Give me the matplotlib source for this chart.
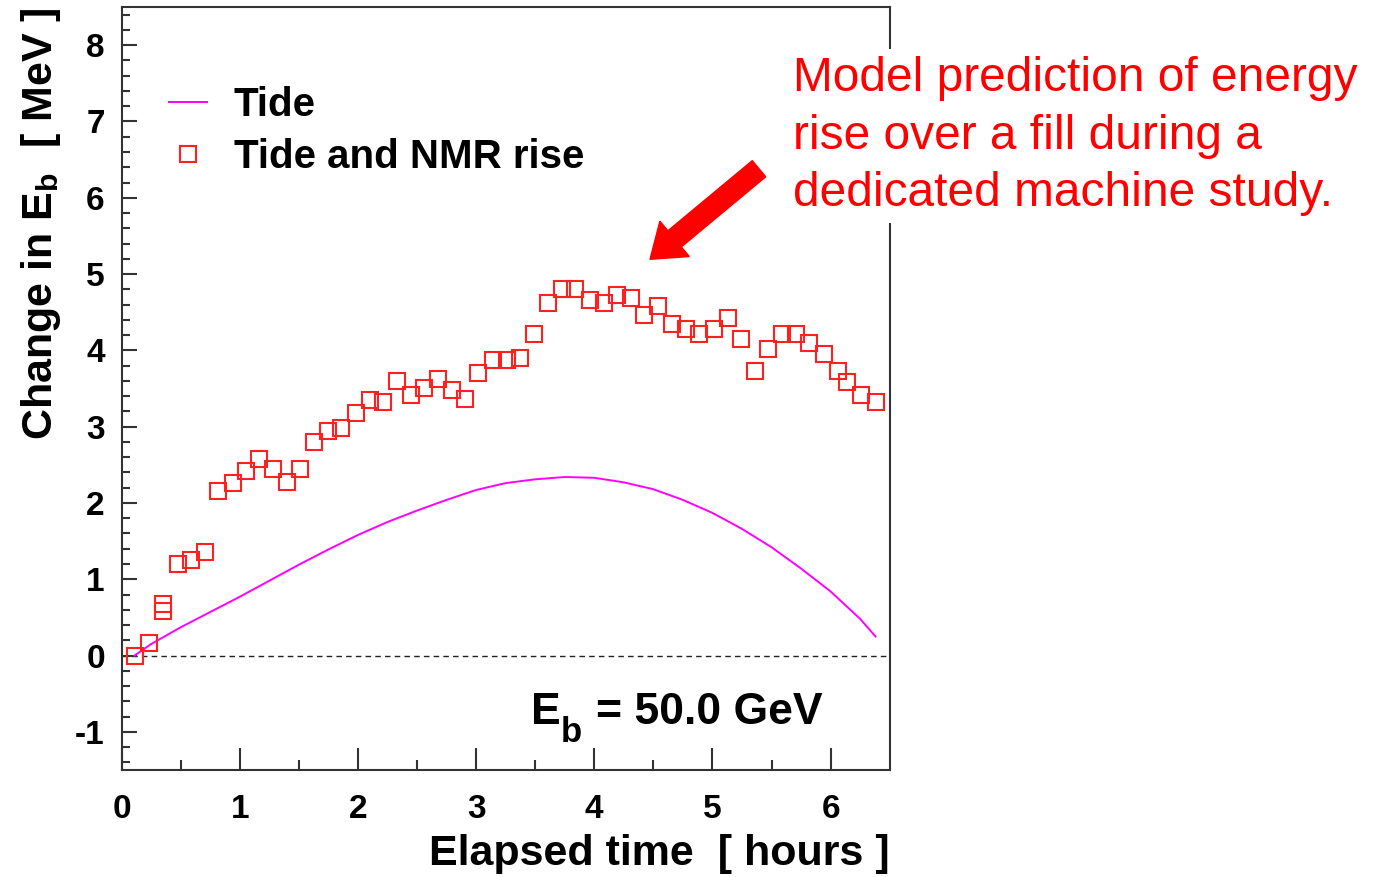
import numpy as np
import matplotlib.pyplot as plt
import matplotlib.patches as mpatches
from matplotlib.transforms import IdentityTransform

plt.rcParams['font.family'] = ['Liberation Sans', 'DejaVu Sans']
plt.rcParams['font.weight'] = 'bold'
plt.rcParams['axes.labelweight'] = 'bold'
plt.rcParams['axes.unicode_minus'] = False
plt.rcParams['mathtext.fontset'] = 'custom'
plt.rcParams['mathtext.rm'] = 'Liberation Sans:bold'
plt.rcParams['mathtext.bf'] = 'Liberation Sans:bold'

# Tide model curve (hours, MeV)
tide_t = [0.11, 0.25, 0.5, 0.75, 1.0, 1.25, 1.5, 1.75, 2.0, 2.25, 2.5, 2.75, 3.0,
          3.25, 3.5, 3.75, 4.0, 4.25, 4.5, 4.75, 5.0, 5.25, 5.5, 5.75, 6.0, 6.25, 6.38]
tide_e = [0.0, 0.15, 0.37, 0.57, 0.77, 0.98, 1.19, 1.39, 1.58, 1.75, 1.90, 2.04, 2.17,
          2.26, 2.31, 2.34, 2.33, 2.27, 2.18, 2.04, 1.87, 1.66, 1.42, 1.14, 0.84, 0.48, 0.25]

# Tide plus NMR rise measurements
nmr_t = [0.11, 0.23, 0.35, 0.35, 0.48, 0.59, 0.71, 0.82, 0.94, 1.05, 1.16, 1.28, 1.40,
         1.51, 1.63, 1.75, 1.86, 1.98, 2.10, 2.21, 2.33, 2.45, 2.56, 2.68, 2.80, 2.91,
         3.02, 3.14, 3.26, 3.37, 3.49, 3.61, 3.73, 3.84, 3.96, 4.08, 4.19, 4.31, 4.42,
         4.54, 4.66, 4.78, 4.89, 5.01, 5.13, 5.24, 5.36, 5.47, 5.59, 5.71, 5.82, 5.94,
         6.06, 6.14, 6.26, 6.38]
nmr_e = [0.0, 0.17, 0.59, 0.67, 1.20, 1.25, 1.36, 2.16, 2.26, 2.42, 2.57, 2.45, 2.28,
         2.45, 2.80, 2.94, 2.98, 3.18, 3.35, 3.32, 3.60, 3.42, 3.51, 3.63, 3.48, 3.36,
         3.70, 3.88, 3.88, 3.90, 4.22, 4.62, 4.81, 4.81, 4.66, 4.62, 4.72, 4.69, 4.46,
         4.58, 4.34, 4.28, 4.22, 4.28, 4.43, 4.15, 3.73, 4.02, 4.22, 4.22, 4.10, 3.95,
         3.73, 3.58, 3.42, 3.32]

fig = plt.figure(figsize=(13.73, 8.77), dpi=100)
ax = fig.add_axes([0.0885, 0.122, 0.5595, 0.870])

ax.axhline(0, color='#222222', lw=1.0, ls=(0, (4, 3)), zorder=1)
ax.plot(tide_t, tide_e, color='#ff00ff', lw=1.4, label='Tide', zorder=2)
ax.plot(nmr_t, nmr_e, ls='none', marker='s', ms=11, mfc='none', mec='#ff2020',
        mew=1.5, label='Tide and NMR rise', zorder=3)

ax.set_xlim(0, 6.5)
ax.set_ylim(-1.5, 8.5)
ax.set_xticks(np.arange(0, 7, 1))
ax.set_xticks(np.arange(0.5, 6.5, 1), minor=True)
ax.set_yticks(np.arange(-1, 9, 1))
ax.set_yticks(np.arange(-1.4, 8.5, 0.2), minor=True)
ax.tick_params(which='both', direction='in', top=False, right=False, width=1.5,
               color='#333333', labelsize=24)
ax.tick_params(axis='y', which='major', length=11, pad=12)
ax.tick_params(axis='y', which='minor', length=6)
ax.tick_params(axis='x', which='major', length=16, pad=17)
ax.tick_params(axis='x', which='minor', length=7)
for s in ax.spines.values():
    s.set_linewidth(1.5)
    s.set_color('#333333')

ax.set_xlabel('Elapsed time  [ hours ]', fontsize=31, fontweight='bold', loc='right', labelpad=7)
ax.set_ylabel(r'Change in E$_{\mathbf{b}}$  [ MeV ]', fontsize=31, fontweight='bold',
              loc='top', labelpad=9)

# beam energy label, subscript drawn a bit larger than mathtext allows
t_val = ax.text(5.93, -0.9, '= 50.0 GeV', fontsize=32, ha='right', va='baseline')
t_sub = ax.annotate('b', xy=(0, 0), xycoords=t_val, xytext=(-10, -11),
                    textcoords='offset points', fontsize=25, ha='right', va='bottom')
ax.annotate('E', xy=(0, 0), xycoords=t_sub, xytext=(0, 11),
            textcoords='offset points', fontsize=32, ha='right', va='bottom')

ax.legend(loc='upper left', bbox_to_anchor=(0.062, 0.897), frameon=False, fontsize=29,
          handlelength=0.95, handletextpad=0.65, labelspacing=0.35, borderpad=0,
          borderaxespad=0)

fig.text(793 / 1373, 1 - 56 / 877,
         'Model prediction of energy\nrise over a fill during a\ndedicated machine study.',
         color='#ff0000', fontsize=34.5, fontweight='normal', ha='left', va='top',
         linespacing=1.36, zorder=5,
         bbox=dict(facecolor='white', edgecolor='none', pad=5))

arrow = mpatches.FancyArrow(759, 877 - 168.7, 650 - 759, (877 - 259.3) - (877 - 168.7),
                            width=21, head_width=46, head_length=32,
                            length_includes_head=True, color='#ff0000',
                            transform=IdentityTransform(), zorder=6)
fig.patches.append(arrow)

fig.savefig('out.png', dpi=100)
